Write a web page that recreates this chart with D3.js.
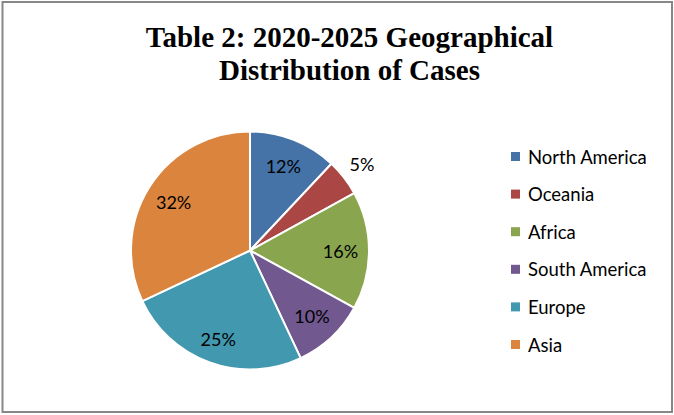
<!DOCTYPE html>
<html>
<head>
<meta charset="utf-8">
<script src="https://cdn.jsdelivr.net/npm/d3@7"></script>
<style>
  html, body { margin: 0; padding: 0; background: #fff; }
  svg { display: block; }
</style>
</head>
<body>
<svg id="chart" width="674" height="415"></svg>
<script>
const titleLines = ["Table 2: 2020-2025 Geographical", "Distribution of Cases"];
const categories = ["North America", "Oceania", "Africa", "South America", "Europe", "Asia"];
const values = [12, 5, 16, 10, 25, 32];
const colors = ["#4572A7", "#AA4643", "#89A54E", "#71588F", "#4198AF", "#DB843D"];
// label placement (Excel "best fit"): radius factor of the pie radius
const labelRadius = [0.76, 1.19, 0.76, 0.76, 0.79, 0.76];

const svg = d3.select("#chart");
const W = 674, H = 415;

svg.append("rect").attr("x", 0).attr("y", 0).attr("width", W).attr("height", H).attr("fill", "#fff");
svg.append("rect")
  .attr("x", 2.5).attr("y", 2).attr("width", 669.5).attr("height", 410)
  .attr("fill", "none").attr("stroke", "#878787").attr("stroke-width", 2);

// title
const title = svg.append("text")
  .attr("text-anchor", "middle")
  .attr("font-family", "'Liberation Serif', 'Times New Roman', serif")
  .attr("font-weight", "bold")
  .attr("font-size", 29)
  .attr("fill", "#000");
titleLines.forEach((t, i) => {
  title.append("tspan").attr("x", 349.5).attr("y", 47 + i * 33).text(t);
});

// pie
const cx = 250, cy = 250.5, R = 119;
const g = svg.append("g").attr("transform", `translate(${cx},${cy})`);
const data = categories.map((c, i) => ({ name: c, value: values[i], color: colors[i], i }));
const pie = d3.pie().value(d => d.value).sort(null);
const arcs = pie(data);
const arc = d3.arc().innerRadius(0).outerRadius(R);

g.selectAll("path.slice")
  .data(arcs)
  .join("path")
  .attr("class", "slice")
  .attr("d", arc)
  .attr("fill", d => d.data.color)
  .attr("stroke", "#fff")
  .attr("stroke-width", 2)
  .attr("stroke-linejoin", "round");

const total = d3.sum(values);
g.selectAll("text.lbl")
  .data(arcs)
  .join("text")
  .attr("class", "lbl")
  .attr("text-anchor", "middle")
  .attr("dominant-baseline", "central")
  .attr("font-family", "Lato, 'Open Sans', sans-serif")
  .attr("font-size", 18)
  .attr("fill", "#000")
  .attr("transform", d => {
    const a = (d.startAngle + d.endAngle) / 2;
    const r = R * labelRadius[d.data.i];
    return `translate(${r * Math.sin(a)},${-r * Math.cos(a)})`;
  })
  .text(d => Math.round(d.data.value / total * 100) + "%");

// legend
const lg = svg.append("g").attr("transform", "translate(511,0)");
const ly = d3.scalePoint().domain(categories).range([156.5, 344.5]);
const items = lg.selectAll("g.item").data(data).join("g").attr("class", "item")
  .attr("transform", d => `translate(0,${ly(d.name)})`);
items.append("rect").attr("x", 0).attr("y", -4.5).attr("width", 9).attr("height", 9)
  .attr("fill", d => d.color);
items.append("text").attr("x", 17).attr("y", 0)
  .attr("dominant-baseline", "central")
  .attr("font-family", "Lato, 'Open Sans', sans-serif")
  .attr("font-size", 18.5)
  .attr("fill", "#000")
  .text(d => d.name);
</script>
</body>
</html>
